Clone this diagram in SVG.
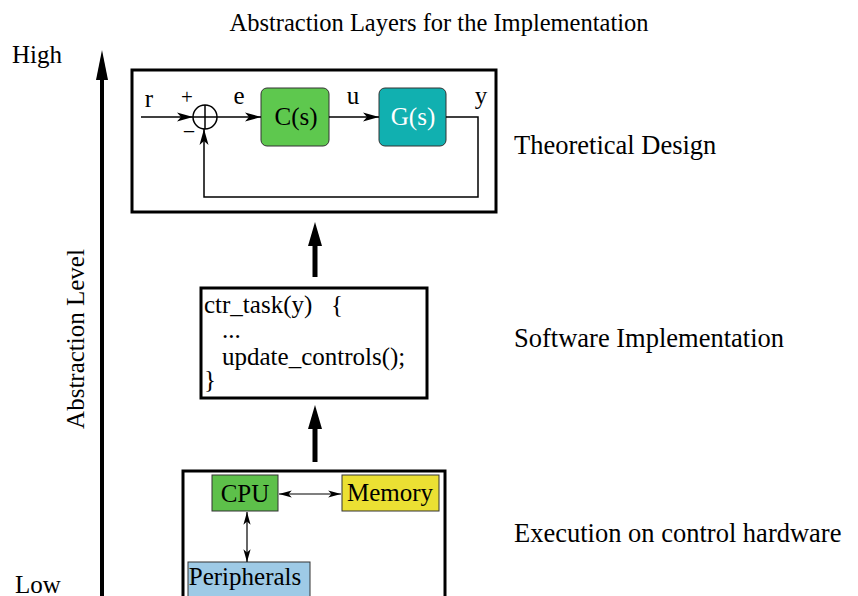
<svg xmlns="http://www.w3.org/2000/svg" width="858" height="596" viewBox="0 0 858 596">
<defs>
<style>
text{font-family:"Liberation Serif","Times New Roman",serif;fill:#000;font-size:25px}
.title{font-size:24.5px}
.lbl{font-size:26.5px}
.box{fill:#fff;stroke:#000;stroke-width:3}
.ln{fill:none;stroke:#000;stroke-width:1.5}
.thin{fill:none;stroke:#000;stroke-width:1.2}
</style>
<marker id="ah" viewBox="0 0 16 10" refX="16" refY="5" markerWidth="17" markerHeight="10" markerUnits="userSpaceOnUse" orient="auto">
<path d="M0,0.5 L16,5 L0,9.5 L4,5 Z" fill="#000"/>
</marker>
<marker id="ahs" viewBox="0 0 16 10" refX="16" refY="5" markerWidth="16" markerHeight="8" markerUnits="userSpaceOnUse" orient="auto-start-reverse">
<path d="M0,0.5 L16,5 L0,9.5 L4,5 Z" fill="#000"/>
</marker>
</defs>
<rect width="858" height="596" fill="#fff"/>
<text x="439" y="31" class="title" text-anchor="middle">Abstraction Layers for the Implementation</text>
<g id="axis">
<line x1="102" y1="600" x2="102" y2="76" stroke="#000" stroke-width="4"/>
<path d="M102,50 L108,80 L96,80 Z" fill="#000"/>
<text x="12" y="63">High</text>
<text x="15" y="593">Low</text>
<text x="0" y="0" text-anchor="middle" transform="translate(84,339) rotate(-90)">Abstraction Level</text>
</g>
<g id="theoretical">
<rect x="132" y="70" width="364" height="142" class="box"/>
<rect x="261" y="88" width="68" height="58" rx="6" fill="#5ec84e" stroke="#333" stroke-width="1"/>
<text x="296" y="125" text-anchor="middle">C(s)</text>
<rect x="379" y="88" width="67" height="58" rx="6" fill="#11b0b0" stroke="#333" stroke-width="1"/>
<text x="413" y="125" text-anchor="middle" style="fill:#fff">G(s)</text>
<circle cx="205" cy="117" r="12" fill="#fff" stroke="#000" stroke-width="1.5"/>
<line x1="193" y1="117" x2="217" y2="117" stroke="#000" stroke-width="1.5"/>
<line x1="205" y1="105" x2="205" y2="129" stroke="#000" stroke-width="1.5"/>
<text x="149" y="107" text-anchor="middle">r</text>
<text x="187" y="104" text-anchor="middle" style="font-size:21px">+</text>
<text x="189" y="129" text-anchor="middle" style="font-size:20px">_</text>
<text x="239" y="104" text-anchor="middle">e</text>
<text x="353" y="104" text-anchor="middle">u</text>
<text x="481" y="104" text-anchor="middle">y</text>
<line x1="141" y1="117" x2="193" y2="117" class="ln" marker-end="url(#ah)"/>
<line x1="217" y1="117" x2="261" y2="117" class="ln" marker-end="url(#ah)"/>
<line x1="329" y1="117" x2="379" y2="117" class="ln" marker-end="url(#ah)"/>
<polyline points="446,117 478,117 478,197 204,197 204,129" class="ln" marker-end="url(#ah)"/>
</g>
<g id="software">
<rect x="201" y="288" width="226" height="110" class="box"/>
<text x="204" y="313" xml:space="preserve" style="white-space:pre">ctr_task(y)   {</text>
<text x="222" y="338">...</text>
<text x="222" y="365">update_controls();</text>
<text x="204" y="388">}</text>
</g>
<g id="hardware">
<rect x="183" y="471" width="262" height="140" class="box"/>
<rect x="212" y="475" width="66" height="36" fill="#5dc04a" stroke="#333" stroke-width="1"/>
<text x="245" y="502" text-anchor="middle">CPU</text>
<rect x="342" y="475" width="97" height="36" fill="#ebe033" stroke="#333" stroke-width="1"/>
<text x="390" y="501" text-anchor="middle">Memory</text>
<rect x="188" y="562" width="122" height="40" fill="#9ecae6" stroke="#333" stroke-width="1"/>
<text x="245" y="585" text-anchor="middle">Peripherals</text>
</g>
<g id="connectors">
<line x1="279" y1="494" x2="341" y2="494" class="thin" marker-start="url(#ahs)" marker-end="url(#ahs)"/>
<line x1="247" y1="512" x2="247" y2="562" class="thin" marker-start="url(#ahs)" marker-end="url(#ahs)"/>
<line x1="315" y1="277" x2="315" y2="242" stroke="#000" stroke-width="5"/>
<path d="M315,222 L322,246 L308,246 Z" fill="#000"/>
<line x1="315" y1="462" x2="315" y2="426" stroke="#000" stroke-width="5"/>
<path d="M315,405 L322,429 L308,429 Z" fill="#000"/>
</g>
<g id="labels">
<text x="514" y="154" class="lbl">Theoretical Design</text>
<text x="514" y="347" class="lbl">Software Implementation</text>
<text x="514" y="542" class="lbl">Execution on control hardware</text>
</g>
</svg>
